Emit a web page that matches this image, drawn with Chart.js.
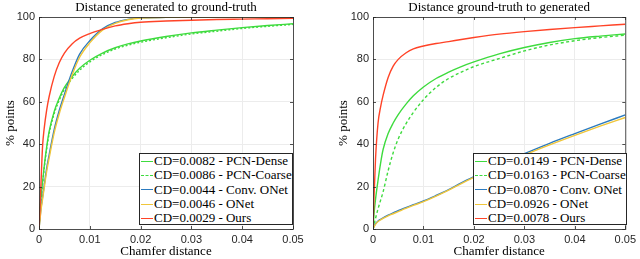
<!DOCTYPE html>
<html>
<head>
<meta charset="utf-8">
<script src="https://cdn.jsdelivr.net/npm/chart.js@4"></script>
<style>
  body { margin: 0; background: #fff; width: 640px; height: 259px; overflow: hidden; position: relative; }
  .panel { position: absolute; top: 0; width: 320px; height: 259px; }
  .legend { position: absolute; top: 153px; width: 154px; height: 72px; background: #fff; border: 1px solid #262626;
            box-sizing: border-box; font: 13px 'Liberation Serif', serif; color: #000; }
  .row { height: 14.3px; display: flex; align-items: center; white-space: nowrap; }
  .swatch { width: 12px; margin: 0 1px 0 1px; border-top: 1.5px solid; }
</style>
</head>
<body>
<div class="panel" style="left:0"><canvas id="leftChart"></canvas></div>
<div class="panel" style="left:320px"><canvas id="rightChart"></canvas></div>
<div class="legend" id="leftLegend" style="left:139px"></div>
<div class="legend" id="rightLegend" style="left:473px"></div>
<script>
// --- data ---
const xTickLabels = ['0', '0.01', '0.02', '0.03', '0.04', '0.05'];
const yTickLabels = ['0', '20', '40', '60', '80', '100'];
const seriesNames = ['PCN-Dense', 'PCN-Coarse', 'Conv. ONet', 'ONet', 'Ours'];

// Distance generated to ground-truth
const cdLeft = [0, 0.0002, 0.0004, 0.0007, 0.001, 0.0015, 0.002, 0.003, 0.004, 0.005, 0.0065, 0.008,
                0.01, 0.0125, 0.015, 0.0175, 0.02, 0.025, 0.03, 0.035, 0.04, 0.045, 0.05];
const leftDense  = [0, 9, 15, 22, 29, 38.5, 46, 55.5, 61.8, 66.8, 71.8, 75.8, 79.6, 83, 85.5, 87.3, 88.7, 90.8, 92.5, 93.8, 95, 96, 96.8];
const leftCoarse = [0, 8, 14, 21, 28, 37.5, 45, 54.5, 60.8, 65.8, 70.9, 74.9, 78.8, 82.3, 84.9, 86.7, 88.1, 90.2, 92, 93.3, 94.6, 95.6, 96.5];
const leftConv   = [0, 5, 10, 15, 20, 28.5, 35, 47, 56, 63.5, 74, 82.5, 88.8, 94.4, 97.4, 98.9, 99.6, 99.8, 99.9, 100, 100, 100, 100];
const leftONet   = [0, 4.5, 9, 14, 19, 27, 33.5, 45.5, 54.5, 62, 72.5, 81, 87.8, 93.8, 97, 98.7, 99.5, 99.8, 99.9, 100, 100, 100, 100];
const leftOurs   = [0, 10, 22, 39, 47, 56, 62.5, 72, 78.5, 83, 87.3, 90, 92.2, 94.2, 95.8, 96.8, 97.5, 98.1, 98.5, 98.8, 99, 99.2, 99.4];
const leftCD     = ['0.0082', '0.0086', '0.0044', '0.0046', '0.0029'];

// Distance ground-truth to generated
const cdRight = [0, 0.0002, 0.0005, 0.001, 0.0015, 0.002, 0.003, 0.004, 0.005, 0.0065, 0.008,
                 0.01, 0.0125, 0.015, 0.0175, 0.02, 0.025, 0.03, 0.035, 0.04, 0.045, 0.05];
const rightDense  = [0, 7, 14, 23, 31, 37.5, 45, 50, 54, 58.8, 62.8, 67, 71, 74, 76.6, 78.8, 82.6, 85.6, 88, 89.8, 91, 92];
const rightCoarse = [0, 2, 5, 9.5, 13.5, 17.5, 27.5, 36, 42.5, 49.5, 55, 61, 66.8, 71, 74, 76.6, 80.4, 84, 86.8, 88.8, 90.3, 91.4];
const rightConv   = [0, 1.2, 2.5, 3.8, 4.6, 5.3, 6.5, 7.6, 8.6, 10.1, 11.5, 13.2, 15.8, 18.6, 21.8, 24.7, 30.2, 35.5, 40.4, 45, 49.5, 53.8];
const rightONet   = [0, 1, 2.2, 3.5, 4.3, 5, 6.2, 7.2, 8.2, 9.7, 11.1, 12.9, 15.5, 18.3, 21.4, 24.3, 29.7, 34.9, 39.7, 44.2, 48.5, 52.6];
const rightOurs   = [0, 15, 33, 50, 57.5, 63, 71.5, 76.8, 80, 83, 85, 86.3, 87.5, 88.4, 89.4, 90.3, 91.9, 93.1, 94.1, 95, 95.8, 96.6];
const rightCD     = ['0.0149', '0.0163', '0.0870', '0.0926', '0.0078'];

const colors = ['#3edb3e', '#3edb3e', '#2c7bbf', '#f0c63a', '#ff4327'];
const AXIS = '#262626';

// box around the plot with MATLAB style inward ticks
const framePlugin = {
  id: 'frame',
  afterDatasetsDraw(chart) {
    const { ctx, chartArea: a, scales } = chart;
    ctx.save();
    ctx.strokeStyle = AXIS;
    ctx.lineWidth = 0.8;
    ctx.strokeRect(a.left + 0.5, a.top + 0.5, a.right - a.left, a.bottom - a.top);
    ctx.beginPath();
    scales.x.ticks.forEach((t, i) => {
      const px = Math.round(scales.x.getPixelForTick(i)) + 0.5;
      ctx.moveTo(px, a.bottom); ctx.lineTo(px, a.bottom - 3);
      ctx.moveTo(px, a.top); ctx.lineTo(px, a.top + 3);
    });
    scales.y.ticks.forEach((t, i) => {
      const py = Math.round(scales.y.getPixelForTick(i)) + 0.5;
      ctx.moveTo(a.left, py); ctx.lineTo(a.left + 3, py);
      ctx.moveTo(a.right, py); ctx.lineTo(a.right - 3, py);
    });
    ctx.stroke();
    ctx.restore();
  }
};

function makeDatasets(xs, ysList, dash) {
  return ysList.map((ys, i) => ({
    label: seriesNames[i],
    data: xs.map((x, j) => ({ x: x, y: ys[j] })),
    borderColor: colors[i],
    borderWidth: 1.4,
    borderDash: i === 1 ? dash : [],
    pointRadius: 0,
    cubicInterpolationMode: 'monotone',
    order: 4 - i // red on top
  }));
}

function makeChart(id, title, datasets, padLeft, padRight, yWidth) {
  return new Chart(document.getElementById(id), {
    type: 'line',
    data: { datasets: datasets },
    plugins: [framePlugin],
    options: {
      responsive: true,
      maintainAspectRatio: false,
      animation: false,
      layout: { padding: { left: padLeft, right: padRight, top: 0, bottom: 0 } },
      plugins: {
        legend: { display: false },
        tooltip: { enabled: false },
        title: {
          display: true,
          text: title,
          fullSize: false,
          color: '#000',
          font: { family: 'Liberation Serif', size: 13, weight: 'normal' },
          padding: { top: 0, bottom: 1.4 }
        }
      },
      scales: {
        x: {
          type: 'linear',
          min: 0,
          max: 0.05,
          afterFit: s => { s.height = 30; },
          border: { display: false },
          grid: { color: '#ececec', drawTicks: false },
          ticks: {
            stepSize: 0.01,
            padding: 4,
            color: AXIS,
            font: { family: 'Liberation Sans', size: 11 },
            callback: (v, i) => xTickLabels[i]
          },
          title: {
            display: true,
            text: 'Chamfer distance',
            color: '#000',
            font: { family: 'Liberation Serif', size: 13 },
            padding: { top: 0, bottom: 0 }
          }
        },
        y: {
          min: 0,
          max: 100,
          afterFit: s => { s.width = yWidth; },
          border: { display: false },
          grid: { color: '#ececec', drawTicks: false },
          ticks: {
            stepSize: 20,
            padding: 4,
            color: AXIS,
            font: { family: 'Liberation Sans', size: 11 },
            callback: (v, i) => yTickLabels[i]
          },
          title: {
            display: true,
            text: '% points',
            color: '#000',
            font: { family: 'Liberation Serif', size: 13 },
            padding: { top: 3, bottom: 0 }
          }
        }
      }
    }
  });
}

function buildLegend(id, cds) {
  const box = document.getElementById(id);
  seriesNames.forEach((name, i) => {
    const row = document.createElement('div');
    row.className = 'row';
    const sw = document.createElement('span');
    sw.className = 'swatch';
    sw.style.borderTopColor = colors[i];
    if (i === 1) sw.style.borderTopStyle = 'dashed';
    row.appendChild(sw);
    row.appendChild(document.createTextNode('CD=' + cds[i] + ' - ' + name));
    box.appendChild(row);
  });
}

makeChart('leftChart', 'Distance generated to ground-truth',
  makeDatasets(cdLeft, [leftDense, leftCoarse, leftConv, leftONet, leftOurs], [2, 2]), 0, 27, 39);
makeChart('rightChart', 'Distance ground-truth to generated',
  makeDatasets(cdRight, [rightDense, rightCoarse, rightConv, rightONet, rightOurs], [3, 2.5]), 13, 13, 40);
buildLegend('leftLegend', leftCD);
buildLegend('rightLegend', rightCD);
</script>
</body>
</html>
